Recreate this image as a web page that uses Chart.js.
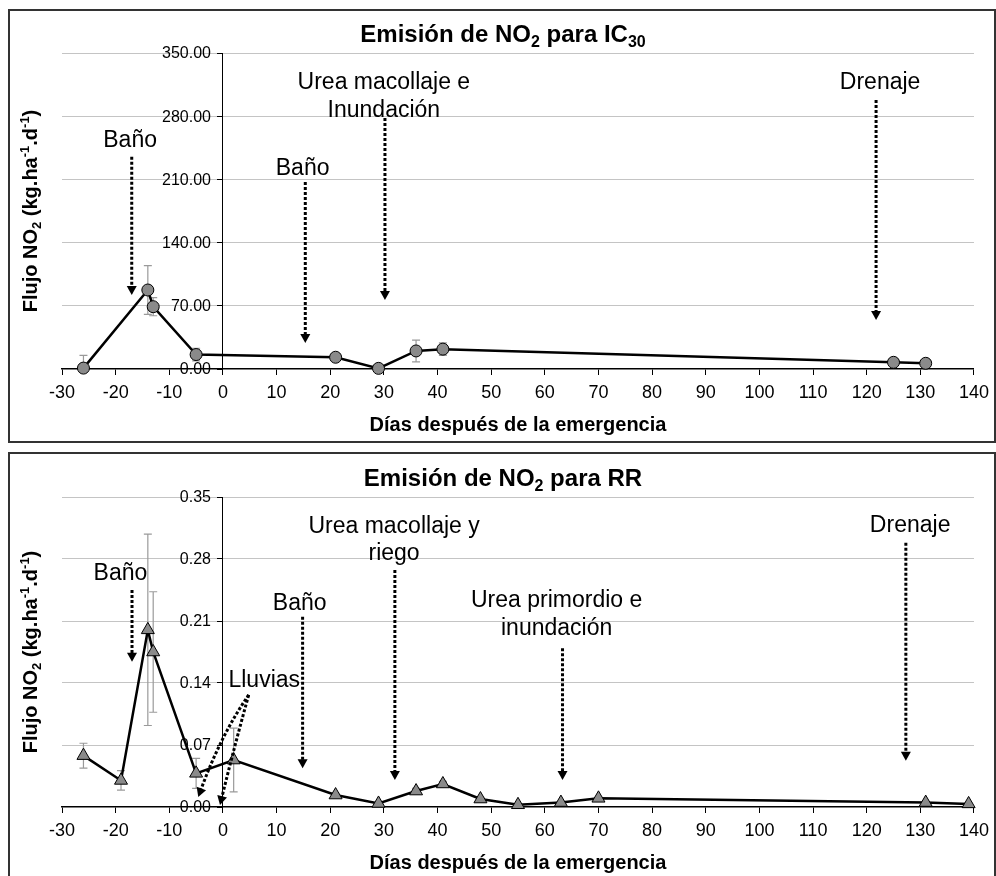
<!DOCTYPE html>
<html><head><meta charset="utf-8">
<script src="https://cdn.jsdelivr.net/npm/chart.js@4.4.1/dist/chart.umd.min.js"></script>
<style>
html,body{margin:0;padding:0;background:#fff;width:996px;height:876px;overflow:hidden;position:relative}
.box{position:absolute;box-sizing:border-box;border:2px solid #333}
canvas{position:absolute;left:0}
</style></head><body>
<div class="box" style="left:8px;top:9px;width:988px;height:434px"></div>
<div class="box" style="left:8px;top:452px;width:988px;height:440px"></div>
<canvas id="c1" width="996" height="448" style="top:0"></canvas>
<canvas id="c2" width="996" height="428" style="top:448px"></canvas>
<script>
const FAM = "'Liberation Sans', Arial, sans-serif";

// ---- shared x axis ----
const xTicks = [-30,-20,-10,0,10,20,30,40,50,60,70,80,90,100,110,120,130,140];

// ---- IC30 (top) ----
const icDays = [-26, -14, -13, -5, 21, 29, 36, 41, 125, 131];
const icFlux = [1, 87.5, 69, 16, 13, 0.7, 20, 22, 7.4, 6.3];
const icErr  = [14, 27, 10, 7, 4, 0.5, 12, 7, 1, 1];
const icYTicks = [0, 70, 140, 210, 280, 350];
const icTitle = [{t:'Emisión de NO'},{t:'2',s:'sub'},{t:' para IC'},{t:'30',s:'sub'}];
const icNotes = [
  {lines:['Baño'], x:-17.3, base:[246]},
  {lines:['Baño'], x:14.85, base:[215]},
  {lines:['Urea macollaje e','Inundación'], x:30, base:[310, 279.5]},
  {lines:['Drenaje'], x:122.5, base:[310]}
];
const icArrows = [
  {x:-17, from:235, to:82},
  {x:15.35, from:207, to:28.8},
  {x:30.2, from:278, to:76.4},
  {x:121.75, from:298, to:54.3}
];

// ---- RR (bottom) ----
const rrDays = [-26, -19, -14, -13, -5, 2, 21, 29, 36, 41, 48, 55, 63, 70, 131, 139];
const rrFlux = [0.058, 0.030, 0.200, 0.175, 0.038, 0.053, 0.0135, 0.004, 0.018, 0.026, 0.009, 0.0025, 0.005, 0.0098, 0.005, 0.0035];
const rrErr  = [0.014, 0.011, 0.108, 0.068, 0.017, 0.036, 0.002, 0.001, 0.003, 0.003, 0.002, 0.001, 0.001, 0.001, 0.001, 0.001];
const rrYTicks = [0, 0.07, 0.14, 0.21, 0.28, 0.35];
const rrTitle = [{t:'Emisión de NO'},{t:'2',s:'sub'},{t:' para RR'}];
const rrNotes = [
  {lines:['Baño'], x:-19.1, base:[0.2563]},
  {lines:['Urea macollaje y','riego'], x:31.9, base:[0.309, 0.279]},
  {lines:['Baño'], x:14.3, base:[0.2224]},
  {lines:['Lluvias'], x:7.7, base:[0.1358]},
  {lines:['Urea primordio e','inundación'], x:62.2, base:[0.2262, 0.1942]},
  {lines:['Drenaje'], x:128.1, base:[0.3109]}
];
const rrArrows = [
  {x:-16.95, from:0.245, to:0.164},
  {x:32.05, from:0.2676, to:0.0305},
  {x:14.85, from:0.2149, to:0.0437},
  {x:63.3, from:0.1791, to:0.0305},
  {x:127.3, from:0.2984, to:0.0523}
];
const rrCurves = [
  {from:[4.8, 0.1265], ctrl:[-0.4, 0.081], to:[-4.6, 0.0113]},
  {from:[4.8, 0.1265], ctrl:[2.2, 0.07], to:[-0.55, 0.0023]}
];

const yTitle = [{t:'Flujo NO'},{t:'2',s:'sub'},{t:' (kg.ha'},{t:'-1',s:'sup'},{t:'.d'},{t:'-1',s:'sup'},{t:')'}];

function drawRich(ctx, segs, x, y, size, weight) {
  let total = 0;
  const parts = segs.map(s => {
    const sz = s.s ? Math.round(size * 0.66) : size;
    ctx.font = weight + ' ' + sz + 'px ' + FAM;
    const w = ctx.measureText(s.t).width;
    total += w;
    return {t: s.t, sz, w, dy: s.s === 'sub' ? size * 0.2 : (s.s === 'sup' ? -size * 0.4 : 0)};
  });
  let cx = x - total / 2;
  ctx.textAlign = 'left';
  ctx.textBaseline = 'alphabetic';
  parts.forEach(p => {
    ctx.font = weight + ' ' + p.sz + 'px ' + FAM;
    ctx.fillText(p.t, cx, y + p.dy);
    cx += p.w;
  });
}

function arrowHead(ctx, tx, ty, ang) {
  const L = 9, W = 5;
  ctx.save();
  ctx.translate(tx, ty);
  ctx.rotate(ang);
  ctx.beginPath();
  ctx.moveTo(0, 0);
  ctx.lineTo(-L, -W);
  ctx.lineTo(-L, W);
  ctx.closePath();
  ctx.fill();
  ctx.restore();
}

function makeChart(id, cfg) {
  const decor = {
    id: 'decor_' + id,
    beforeDatasetsDraw(chart) {
      const {ctx, chartArea: a, scales: {x, y}} = chart;
      ctx.save();
      // y tick labels (axis crosses at x = 0)
      const ax = x.getPixelForValue(0);
      ctx.fillStyle = '#000';
      ctx.font = '16px ' + FAM;
      ctx.textAlign = 'right';
      ctx.textBaseline = 'middle';
      cfg.yTicks.forEach(v => {
        ctx.fillText(v.toFixed(2), ax - 12, y.getPixelForValue(v) + 1);
      });
      // error bars
      ctx.beginPath();
      ctx.rect(a.left, a.top - 1, a.right - a.left, a.bottom - a.top + 1);
      ctx.clip();
      ctx.strokeStyle = '#9a9a9a';
      ctx.lineWidth = 1.2;
      cfg.days.forEach((d, i) => {
        const px = x.getPixelForValue(d);
        const t = y.getPixelForValue(cfg.flux[i] + cfg.err[i]);
        const b = y.getPixelForValue(cfg.flux[i] - cfg.err[i]);
        ctx.beginPath();
        ctx.moveTo(px, t); ctx.lineTo(px, b);
        ctx.moveTo(px - 4, t); ctx.lineTo(px + 4, t);
        ctx.moveTo(px - 4, b); ctx.lineTo(px + 4, b);
        ctx.stroke();
      });
      ctx.restore();
    },
    afterDatasetsDraw(chart) {
      const {ctx, chartArea: a, scales: {x, y}} = chart;
      ctx.save();
      ctx.fillStyle = '#000';
      drawRich(ctx, cfg.title, 503, a.top - 11, 24, 'bold');
      ctx.font = 'bold 20px ' + FAM;
      ctx.textAlign = 'center';
      ctx.textBaseline = 'alphabetic';
      ctx.fillText('Días después de la emergencia', (a.left + a.right) / 2, a.bottom + 62);
      ctx.save();
      ctx.translate(37, (a.top + a.bottom) / 2);
      ctx.rotate(-Math.PI / 2);
      drawRich(ctx, yTitle, 0, 0, 20, 'bold');
      ctx.restore();
      ctx.font = '23px ' + FAM;
      ctx.textAlign = 'center';
      ctx.textBaseline = 'alphabetic';
      cfg.notes.forEach(n => {
        n.lines.forEach((ln, k) => {
          ctx.fillText(ln, x.getPixelForValue(n.x), y.getPixelForValue(n.base[k]));
        });
      });
      ctx.strokeStyle = '#000';
      ctx.lineWidth = 3;
      ctx.setLineDash([3, 2]);
      cfg.arrows.forEach(r => {
        const px = x.getPixelForValue(r.x);
        const y0 = y.getPixelForValue(r.from);
        const y1 = y.getPixelForValue(r.to);
        ctx.beginPath();
        ctx.moveTo(px, y0);
        ctx.lineTo(px, y1 - 8);
        ctx.stroke();
        arrowHead(ctx, px, y1, Math.PI / 2);
      });
      (cfg.curves || []).forEach(c => {
        const p0 = [x.getPixelForValue(c.from[0]), y.getPixelForValue(c.from[1])];
        const p1 = [x.getPixelForValue(c.ctrl[0]), y.getPixelForValue(c.ctrl[1])];
        const p2 = [x.getPixelForValue(c.to[0]), y.getPixelForValue(c.to[1])];
        const ang = Math.atan2(p2[1] - p1[1], p2[0] - p1[0]);
        const e = [p2[0] - 8 * Math.cos(ang), p2[1] - 8 * Math.sin(ang)];
        ctx.beginPath();
        ctx.moveTo(p0[0], p0[1]);
        ctx.quadraticCurveTo(p1[0], p1[1], e[0], e[1]);
        ctx.stroke();
        arrowHead(ctx, p2[0], p2[1], ang);
      });
      ctx.restore();
    }
  };

  return new Chart(document.getElementById(id), {
    type: 'scatter',
    data: {
      datasets: [{
        data: cfg.days.map((d, i) => ({x: d, y: cfg.flux[i]})),
        showLine: true,
        borderColor: '#000',
        borderWidth: 2.5,
        tension: 0,
        pointStyle: cfg.style,
        pointRadius: cfg.radius,
        pointBackgroundColor: '#8a8a8a',
        pointBorderColor: '#000',
        pointBorderWidth: 1,
        clip: false
      }]
    },
    options: {
      responsive: false,
      animation: false,
      devicePixelRatio: 1,
      layout: {padding: cfg.padding},
      plugins: {legend: {display: false}, tooltip: {enabled: false}, title: {display: false}},
      scales: {
        x: {
          type: 'linear', position: 'bottom', min: -30, max: 140,
          afterBuildTicks: s => { s.ticks = xTicks.map(v => ({value: v})); },
          afterFit: s => { s.height = 30; },
          grid: {drawOnChartArea: false, drawTicks: true, tickLength: 6, tickColor: '#000', tickWidth: 1},
          border: {display: true, color: '#000', width: 1.5},
          ticks: {autoSkip: false, maxRotation: 0, color: '#000', font: {family: FAM, size: 18}, padding: 7}
        },
        y: {
          type: 'linear', min: 0, max: cfg.yTicks[cfg.yTicks.length - 1], position: {x: 0},
          afterBuildTicks: s => { s.ticks = cfg.yTicks.map(v => ({value: v})); },
          grid: {
            color: c => (c.tick && c.tick.value === 0) ? 'rgba(0,0,0,0)' : '#c4c4c4',
            lineWidth: 1, drawTicks: true, tickLength: 5, tickColor: '#000'
          },
          border: {display: true, color: '#000', width: 1},
          ticks: {display: false}
        }
      }
    },
    plugins: [decor]
  });
}

makeChart('c1', {
  days: icDays, flux: icFlux, err: icErr, yTicks: icYTicks, title: icTitle,
  notes: icNotes, arrows: icArrows, curves: [],
  style: 'circle', radius: 6,
  padding: {left: 62, right: 18, top: 53, bottom: 49}
});
makeChart('c2', {
  days: rrDays, flux: rrFlux, err: rrErr, yTicks: rrYTicks, title: rrTitle,
  notes: rrNotes, arrows: rrArrows, curves: rrCurves,
  style: 'triangle', radius: 7.5,
  padding: {left: 62, right: 18, top: 49, bottom: 39}
});
</script>
</body></html>
